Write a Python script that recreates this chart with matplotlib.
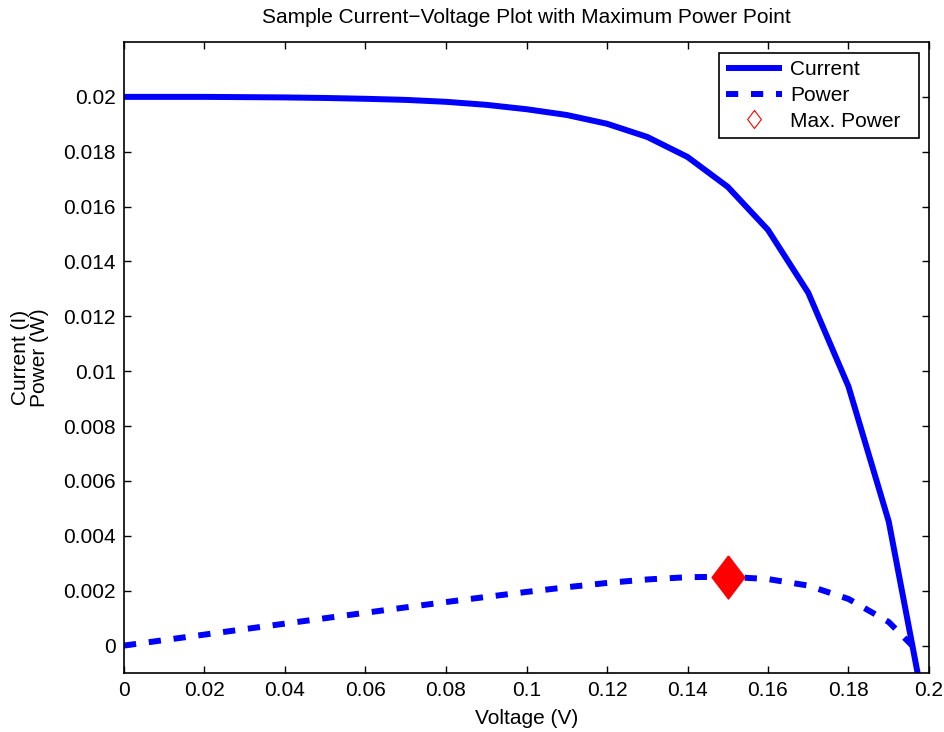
import matplotlib
matplotlib.use("Agg")
import matplotlib.pyplot as plt
from matplotlib.lines import Line2D

plt.rcParams['font.family'] = ['Liberation Sans', 'DejaVu Sans']
plt.rcParams['lines.scale_dashes'] = False

# Data
voltage = [0.0, 0.01, 0.02, 0.03, 0.04, 0.05, 0.06, 0.07, 0.08, 0.09, 0.10,
           0.11, 0.12, 0.13, 0.14, 0.15, 0.16, 0.17, 0.18, 0.19, 0.1973]
current = [0.02, 0.02, 0.02, 0.01999, 0.01998, 0.01996, 0.01993, 0.01989, 0.01982,
           0.01971, 0.01955, 0.01934, 0.01902, 0.01854, 0.01781, 0.01672, 0.01515,
           0.01286, 0.00944, 0.00452, -0.0011]
power = [0.0, 0.0002, 0.0004, 0.0006, 0.0008, 0.000998, 0.001196, 0.001392, 0.001586,
         0.001774, 0.001955, 0.002127, 0.002282, 0.00241, 0.002493, 0.002508, 0.002424,
         0.002186, 0.001699, 0.000859, -0.000217]
max_v = [0.15]
max_p = [0.0025]

x_ticks = [0, 0.02, 0.04, 0.06, 0.08, 0.1, 0.12, 0.14, 0.16, 0.18, 0.2]
x_labels = ['0', '0.02', '0.04', '0.06', '0.08', '0.1', '0.12', '0.14', '0.16', '0.18', '0.2']
y_ticks = [0, 0.002, 0.004, 0.006, 0.008, 0.01, 0.012, 0.014, 0.016, 0.018, 0.02]
y_labels = ['0', '0.002', '0.004', '0.006', '0.008', '0.01', '0.012', '0.014', '0.016', '0.018', '0.02']
legend_labels = ['Current', 'Power', 'Max. Power  ']

FS = 15

fig = plt.figure(figsize=(9.45, 7.32), dpi=100)
ax = fig.add_axes([124/945, 1 - 673/732, (929-124)/945, (673-42)/732])

blue = '#0000ff'
ax.plot(voltage, current, color=blue, lw=4.3, solid_capstyle='butt', solid_joinstyle='miter')
ax.plot(voltage, power, color=blue, lw=4.3, dashes=(8.8, 9.2), dash_capstyle='butt')
diamond = [(0, 0.5), (0.38, 0), (0, -0.5), (-0.38, 0), (0, 0.5)]
ax.plot(max_v, max_p, linestyle='none', marker=diamond, markersize=31,
        markerfacecolor='#ff0000', markeredgecolor='#ff0000')

ax.set_xlim(0, 0.2)
ax.set_ylim(-0.001, 0.022)
ax.set_xticks(x_ticks)
ax.set_xticklabels(x_labels)
ax.set_yticks(y_ticks)
ax.set_yticklabels(y_labels)
ax.tick_params(direction='in', length=5, width=1, top=True, right=True,
               labelsize=FS, pad=6, colors='black')
for s in ax.spines.values():
    s.set_linewidth(1.2)

ax.set_title('Sample Current\u2212Voltage Plot with Maximum Power Point', fontsize=FS, pad=14)
ax.set_xlabel('Voltage (V)', fontsize=FS, labelpad=6)
ax.set_ylabel('Current (I)\nPower (W)', fontsize=FS, labelpad=10, linespacing=1.0)

handles = [
    Line2D([], [], color=blue, lw=4.3, solid_capstyle='butt'),
    Line2D([], [], color=blue, lw=4.3, dashes=(8.8, 9.2), dash_capstyle='butt'),
    Line2D([], [], linestyle='none', marker=diamond, markersize=13,
           markerfacecolor='none', markeredgecolor='#ff0000', markeredgewidth=0.8),
]
leg = ax.legend(handles, legend_labels, loc='upper right',
                bbox_to_anchor=(0.9875, 0.9825), fontsize=FS, fancybox=False,
                framealpha=1, edgecolor='black', handlelength=2.7, handletextpad=0.35,
                borderpad=0.35, labelspacing=0.32, borderaxespad=0)
leg.get_frame().set_linewidth(1.2)

fig.savefig('out.png', dpi=100)
